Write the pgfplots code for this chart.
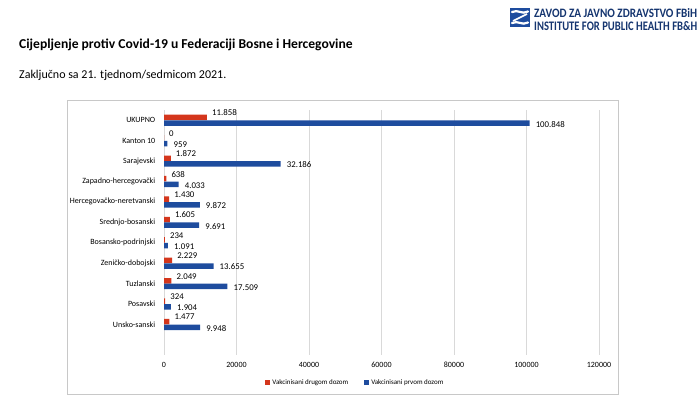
\documentclass[border=0pt]{standalone}
\usepackage{fontspec}
\setmainfont{Carlito}
\usepackage{graphicx}
\usepackage{pgfplots}
\pgfplotsset{compat=1.18}
\usepackage{pgfplotstable}

\definecolor{doseRed}{RGB}{212,54,28}
\definecolor{doseBlue}{RGB}{30,76,158}
\definecolor{gridGray}{RGB}{217,217,217}
\definecolor{frameGray}{RGB}{200,200,200}

% Cantons listed bottom-up: y = 0 (Unsko-sanski) ... 10 (UKUPNO)
\pgfplotstableread{
y  second  first
0  1477    9948
1  324     1904
2  2049    17509
3  2229    13655
4  234     1091
5  1605    9691
6  1430    9872
7  638     4033
8  1872    32186
9  0       959
10 11858   100848
}\vaccdata

\begin{document}
\begin{tikzpicture}[x=1pt,y=1pt]
\path[use as bounding box] (0,0) rectangle (700,411);

% headings
\node[anchor=west,inner sep=0pt,font=\fontsize{13.6}{15}\selectfont\bfseries] at (19,366)
  {Cijepljenje protiv Covid-19 u Federaciji Bosne i Hercegovine};
\node[anchor=west,inner sep=0pt,font=\fontsize{12}{14}\selectfont] at (19,336)
  {Zaključno sa 21. tjednom/sedmicom 2021.};

% institute logo
\fill[doseBlue] (510,384) rectangle (530,403);
\draw[white,line width=2.2pt,line cap=round]
  (512,399) .. controls (518,402) and (522,396) .. (528,399.5);
\draw[white,line width=2.2pt,line cap=round]
  (512,388) .. controls (518,391) and (522,385) .. (528,388.5);
\draw[white,line width=1.6pt] (527,397) -- (513,390);
\node[anchor=west,inner sep=0pt,text=doseBlue!70!black] at (534,398)
  {\resizebox{163pt}{9pt}{\bfseries ZAVOD ZA JAVNO ZDRAVSTVO FBiH}};
\node[anchor=west,inner sep=0pt,text=doseBlue!70!black] at (534,385)
  {\resizebox{163pt}{9pt}{\bfseries INSTITUTE FOR PUBLIC HEALTH FB\&H}};

% chart frame
\draw[frameGray,line width=0.8pt] (67,17) rectangle (618,311);

\begin{axis}[
  at={(164pt,56pt)}, anchor=south west,
  width=435pt, height=245pt, scale only axis,
  xbar, bar width=5.5pt,
  xmin=0, xmax=120000,
  ymin=-1.5, ymax=10.5,
  xtick={0,20000,...,120000},
  scaled x ticks=false,
  /pgf/number format/fixed,
  /pgf/number format/assume math mode=true,
  xticklabel style={/pgf/number format/1000 sep={}},
  ytick={0,...,10},
  yticklabels={Unsko-sanski,Posavski,Tuzlanski,Zeničko-dobojski,Bosansko-podrinjski,Srednjo-bosanski,Hercegovačko-neretvanski,Zapadno-hercegovački,Sarajevski,Kanton 10,UKUPNO},
  tick label style={font=\fontsize{8}{9.5}\selectfont},
  yticklabel style={xshift=-1pt},
  xticklabel style={yshift=-4pt},
  axis line style={draw=none},
  major tick style={draw=none},
  xmajorgrids, major grid style={gridGray,line width=0.8pt},
  clip=false,
  legend style={at={(0.44,-0.114)}, anchor=center, draw=none,
    legend columns=2, font=\fontsize{7}{8.5}\selectfont,
    /tikz/every even column/.append style={column sep=14pt}},
  legend image code/.code={\fill[#1] (0pt,-2.5pt) rectangle (5pt,2.5pt);},
  nodes near coords={\pgfmathprintnumber[fixed,precision=0,1000 sep={.}]{\pgfplotspointmeta}},
  nodes near coords style={font=\fontsize{8.8}{10}\selectfont,inner sep=1pt,anchor=west,text=black},
]
\addplot[fill=doseRed,draw=none,bar shift=2.75pt,
  every node near coord/.append style={xshift=4pt,yshift=4.5pt}]
  table[x=second,y=y] {\vaccdata};
\addlegendentry{Vakcinisani drugom dozom}
\addplot[fill=doseBlue,draw=none,bar shift=-2.9pt,
  every node near coord/.append style={xshift=5pt,yshift=-1pt}]
  table[x=first,y=y] {\vaccdata};
\addlegendentry{Vakcinisani prvom dozom}
\end{axis}
\end{tikzpicture}
\end{document}
